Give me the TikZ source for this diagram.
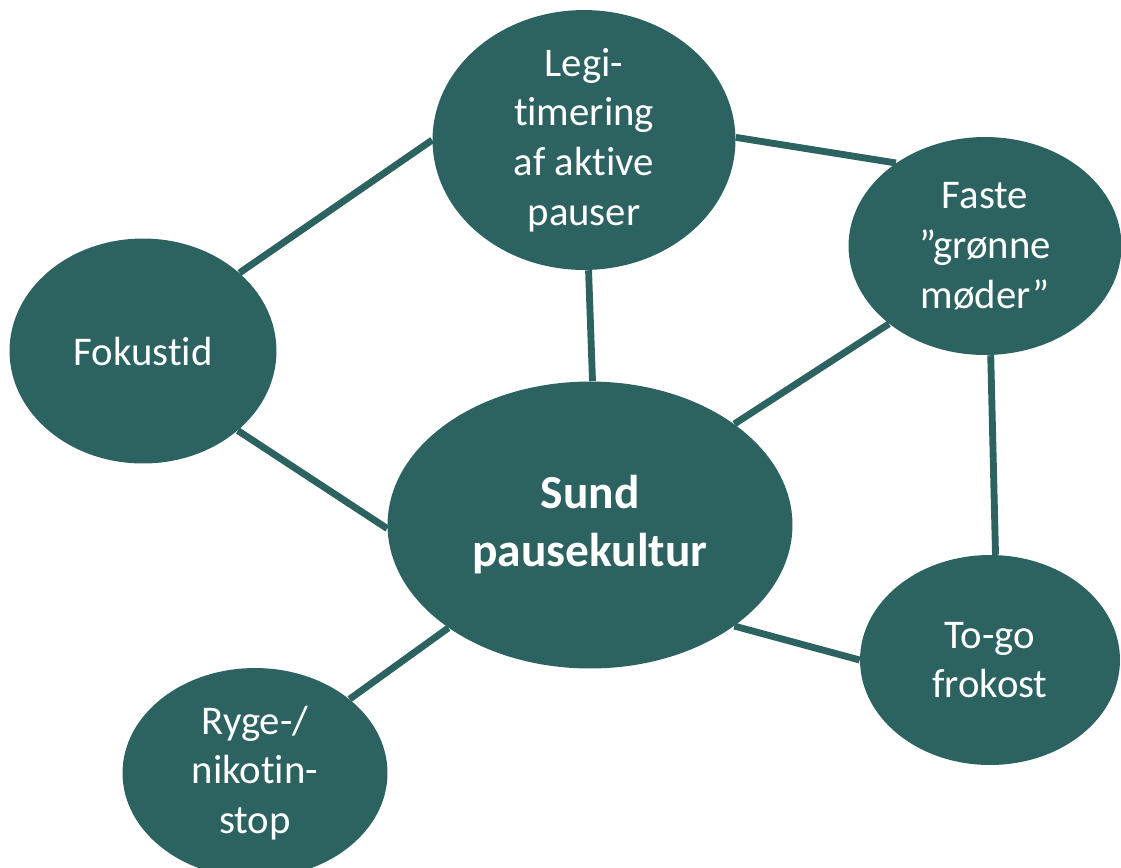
\documentclass[tikz,border=0pt]{standalone}
\usepackage{fontspec}
\setmainfont{Carlito}[Ligatures=NoCommon]
\usetikzlibrary{shapes.geometric,backgrounds}
\definecolor{teal}{RGB}{44,99,97}
\tikzset{
    bubble/.style ={
        ellipse,                 % 椭圆节点
        fill = teal,             % 填充颜色
        inner sep = 0pt,         % 文字和边框的距离
        text = white,            % 文字颜色
        align = center,
        font = \fontsize{23.2}{28.3}\selectfont
    },
    link/.style ={
        draw = teal,             % 连线颜色
        line width = 3.9pt
    }
}

\begin{document}
\begin{tikzpicture}[x=0.02cm, y=-0.02cm]
    \useasboundingbox (0,0) rectangle (1121,867);
    \clip (0,0) rectangle (1121,867);
    \node[bubble, minimum width=8.1cm, minimum height=5.74cm,
          font=\fontsize{27}{33}\selectfont\bfseries] (sund) at(590,525) {Sund\\pausekultur};
    \node[bubble, minimum width=6.06cm, minimum height=4.94cm] (legi) at(584,140) {Legi-\\timering\\af aktive\\pauser};
    \node[bubble, minimum width=5.46cm, minimum height=4.36cm] (faste) at(985,246) {Faste\\”grønne\\møder”};
    \node[bubble, minimum width=5.34cm, minimum height=4.5cm] (fokus) at(143,351) {Fokustid};
    \node[bubble, minimum width=5.2cm, minimum height=4.2cm] (togo) at(990,660) {To-go\\frokost};
    \node[bubble, minimum width=5.3cm, minimum height=4.2cm] (ryge) at(255,773) {Ryge-/\\nikotin-\\stop};
    \begin{scope}[on background layer]
        \draw[link] (legi.1) -- (faste.137);
        \draw[link] (faste.-87) -- (togo.87);
        \draw[link] (faste.219) -- (sund.35);
        \draw[link] (fokus.39) -- (legi.180);
        \draw[link] (fokus.-40) -- (sund.181);
        \draw[link] (legi.-88) -- (sund.89);
        \draw[link] (sund.216) -- (ryge.38);
        \draw[link] (sund.-35) -- (togo.180);
    \end{scope}
\end{tikzpicture}
\end{document}
